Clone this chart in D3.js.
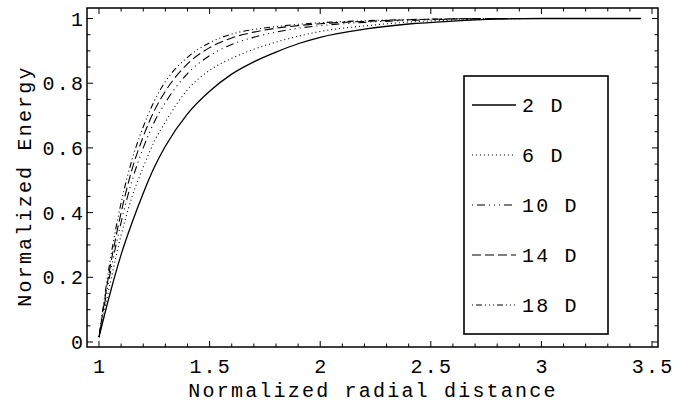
<!DOCTYPE html>
<html><head><meta charset="utf-8">
<script src="https://cdn.jsdelivr.net/npm/d3@7"></script>
<style>
html,body{margin:0;padding:0;background:#fff;}
text{font-family:"Liberation Mono","Courier New",monospace;fill:#000;}
</style></head>
<body><svg id="chart" width="678" height="405"></svg>
<script>
// ---- data ----
const xValues = [1, 1.05, 1.1, 1.15, 1.2, 1.25, 1.3, 1.4, 1.5, 1.6, 1.7, 1.8, 1.9, 2.0, 2.2, 2.4, 2.6, 2.8, 3.0, 3.45];
const energy2D  = [0.015, 0.15, 0.27, 0.37, 0.46, 0.54, 0.605, 0.705, 0.775, 0.828, 0.866, 0.896, 0.922, 0.942, 0.967, 0.983, 0.992, 0.998, 1.0, 1.0];
const energy6D  = [0.015, 0.18, 0.33, 0.45, 0.54, 0.62, 0.68, 0.78, 0.84, 0.877, 0.905, 0.927, 0.945, 0.96, 0.977, 0.989, 0.995, 0.999, 1.0, 1.0];
const energy10D = [0.015, 0.21, 0.37, 0.5, 0.6, 0.68, 0.74, 0.83, 0.885, 0.92, 0.942, 0.958, 0.97, 0.978, 0.988, 0.994, 0.998, 1.0, 1.0, 1.0];
const energy14D = [0.015, 0.23, 0.4, 0.535, 0.635, 0.715, 0.775, 0.86, 0.91, 0.94, 0.958, 0.97, 0.978, 0.984, 0.991, 0.996, 0.999, 1.0, 1.0, 1.0];
const energy18D = [0.015, 0.25, 0.43, 0.565, 0.665, 0.745, 0.805, 0.88, 0.925, 0.952, 0.966, 0.975, 0.982, 0.987, 0.993, 0.997, 0.999, 1.0, 1.0, 1.0];
const seriesNames = ["2 D", "6 D", "10 D", "14 D", "18 D"];
const xTickLabels = ["1", "1.5", "2", "2.5", "3", "3.5"];
const yTickLabels = ["0", "0.2", "0.4", "0.6", "0.8", "1"];
const xTitle = "Normalized radial distance";
const yTitle = "Normalized Energy";

const seriesValues = [energy2D, energy6D, energy10D, energy14D, energy18D];
const dashes = [null, "1,3", "1,4,8,4,1,4,1,4", "9,4", "1,3,6,3,1,3,1,3"];

// ---- layout ----
const svg = d3.select("#chart");
const L = 87, R = 658, T = 8, B = 347;
const x = d3.scaleLinear().domain([0.9458, 3.527]).range([L, R]);
const y = d3.scaleLinear().domain([-0.0155, 1.0325]).range([B, T]);

const fontSize = 20, ls = 2.2;

// curves
const line = d3.line().x(d => x(d[0])).y(d => y(d[1])).curve(d3.curveMonotoneX);
seriesValues.forEach((vals, i) => {
  const pts = xValues.map((xv, k) => [xv, vals[k]]);
  svg.append("path").attr("d", line(pts)).attr("fill", "none")
    .attr("stroke", "#000").attr("stroke-width", i === 0 ? 1.3 : 1.1)
    .attr("stroke-dasharray", dashes[i]);
});

// frame ticks
const g = svg.append("g").attr("stroke", "#000");
const xMajor = xTickLabels.map(Number);
const xMinor = d3.range(10, 36).map(v => v / 10).filter(v => !xMajor.some(m => Math.abs(m - v) < 1e-9));
const yMajor = yTickLabels.map(Number);
const yMinor = d3.range(0, 21).map(v => v / 20).filter(v => !yMajor.some(m => Math.abs(m - v) < 1e-9));
const maj = 6, mnr = 3.5;
xMajor.forEach(v => { g.append("line").attr("x1", x(v)).attr("x2", x(v)).attr("y1", B).attr("y2", B - maj);
                      g.append("line").attr("x1", x(v)).attr("x2", x(v)).attr("y1", T).attr("y2", T + maj); });
xMinor.forEach(v => { g.append("line").attr("x1", x(v)).attr("x2", x(v)).attr("y1", B).attr("y2", B - mnr);
                      g.append("line").attr("x1", x(v)).attr("x2", x(v)).attr("y1", T).attr("y2", T + mnr); });
yMajor.forEach(v => { g.append("line").attr("y1", y(v)).attr("y2", y(v)).attr("x1", L).attr("x2", L + maj);
                      g.append("line").attr("y1", y(v)).attr("y2", y(v)).attr("x1", R).attr("x2", R - maj); });
yMinor.forEach(v => { g.append("line").attr("y1", y(v)).attr("y2", y(v)).attr("x1", L).attr("x2", L + mnr);
                      g.append("line").attr("y1", y(v)).attr("y2", y(v)).attr("x1", R).attr("x2", R - mnr); });
svg.append("rect").attr("x", L).attr("y", T).attr("width", R - L).attr("height", B - T)
  .attr("fill", "none").attr("stroke", "#000").attr("stroke-width", 1.5);

// tick labels
xTickLabels.forEach(t => svg.append("text").attr("x", x(+t) + ls / 2).attr("y", 373)
  .attr("text-anchor", "middle").attr("font-size", fontSize).attr("letter-spacing", ls).text(t));
yTickLabels.forEach(t => svg.append("text").attr("x", 83 + ls).attr("y", y(+t)).attr("dy", "0.35em")
  .attr("text-anchor", "end").attr("font-size", fontSize).attr("letter-spacing", ls).text(t));

// titles
svg.append("text").attr("x", 373).attr("y", 397).attr("text-anchor", "middle")
  .attr("font-size", fontSize).attr("letter-spacing", ls).text(xTitle);
svg.append("text").attr("transform", "translate(31,186) rotate(-90)").attr("text-anchor", "middle")
  .attr("font-size", fontSize).attr("letter-spacing", ls).text(yTitle);

// legend
const lg = svg.append("g");
lg.append("rect").attr("x", 464).attr("y", 76).attr("width", 144).attr("height", 258)
  .attr("fill", "#fff").attr("stroke", "#000").attr("stroke-width", 1.6);
seriesNames.forEach((n, i) => {
  const cy = 105 + i * 50;
  lg.append("line").attr("x1", 472).attr("x2", 516).attr("y1", cy).attr("y2", cy)
    .attr("stroke", "#000").attr("stroke-width", i === 0 ? 1.3 : 1.1).attr("stroke-dasharray", dashes[i]);
  lg.append("text").attr("x", 522).attr("y", cy).attr("dy", "0.35em")
    .attr("font-size", fontSize).attr("letter-spacing", ls).text(n);
});
</script></body></html>
